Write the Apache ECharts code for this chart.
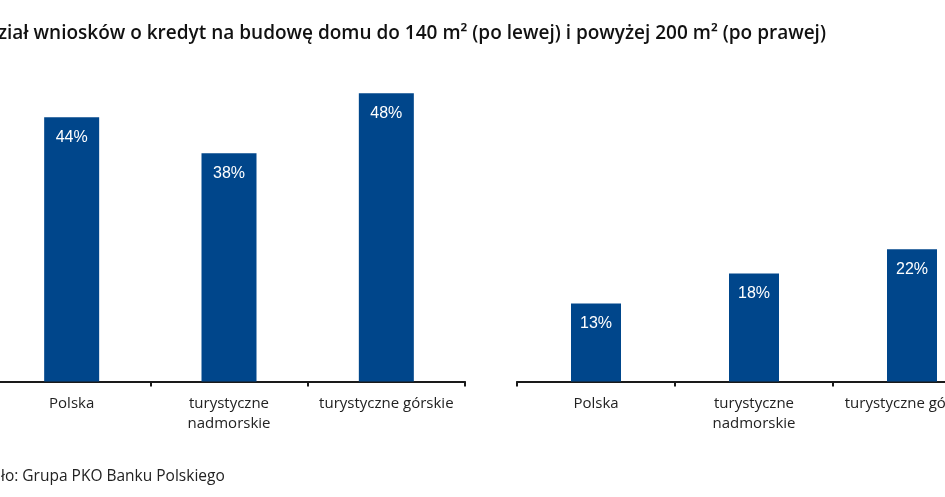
<!DOCTYPE html>
<html>
<head>
<meta charset="utf-8">
<script src="https://cdn.jsdelivr.net/npm/echarts@6/dist/echarts.min.js"></script>
<style>
html,body{margin:0;padding:0;background:#fff;}
#chart{width:945px;height:497px;}
</style>
</head>
<body>
<div id="chart"></div>
<script>
const categories = ['Polska', 'turystyczne\nnadmorskie', 'turystyczne górskie'];
const valuesUpTo140 = [44, 38, 48];
const valuesAbove200 = [13, 18, 22];
const titleText = 'Udział wniosków o kredyt na budowę domu do 140 m² (po lewej) i powyżej 200 m² (po prawej)';
const sourceText = 'Źródło: Grupa PKO Banku Polskiego';

const barColor = '#00468b';
const catFont = 'Open Sans';

function xAxisCfg(gridIndex) {
  return {
    type: 'category', gridIndex: gridIndex, data: categories,
    axisLine: { lineStyle: { color: '#1a1a1a', width: 2 } },
    axisTick: { show: true, length: 5, lineStyle: { color: '#1a1a1a', width: 2 } },
    axisLabel: { color: '#222222', fontSize: 15, fontFamily: catFont, margin: 12, lineHeight: 20, interval: 0 }
  };
}
function yAxisCfg(gridIndex) {
  return { type: 'value', gridIndex: gridIndex, min: 0, max: 50.2, show: false, splitLine: { show: false } };
}
function seriesCfg(idx, data, bw) {
  return {
    type: 'bar', xAxisIndex: idx, yAxisIndex: idx, data: data, barWidth: bw,
    itemStyle: { color: barColor },
    label: { show: true, position: 'insideTop', distance: 12, color: '#fff', fontSize: 16,
             fontFamily: 'Liberation Sans', formatter: '{c}%' }
  };
}

const chart = echarts.init(document.getElementById('chart'), null, { renderer: 'canvas' });
chart.setOption({
  animation: false,
  backgroundColor: '#fff',
  title: [
    { text: titleText, left: -33, top: 19,
      textStyle: { fontSize: 19, fontWeight: 600, color: '#111111', fontFamily: catFont } },
    { text: sourceText, left: -38, top: 464,
      textStyle: { fontSize: 15.5, fontWeight: 'normal', color: '#222222', fontFamily: catFont } }
  ],
  grid: [
    { left: -7, right: 480, top: 80, bottom: 115.5, outerBoundsMode: 'none', containLabel: false },
    { left: 517, right: -46, top: 80, bottom: 115.5, outerBoundsMode: 'none', containLabel: false }
  ],
  xAxis: [xAxisCfg(0), xAxisCfg(1)],
  yAxis: [yAxisCfg(0), yAxisCfg(1)],
  series: [seriesCfg(0, valuesUpTo140, 55), seriesCfg(1, valuesAbove200, 50)]
});
</script>
</body>
</html>
